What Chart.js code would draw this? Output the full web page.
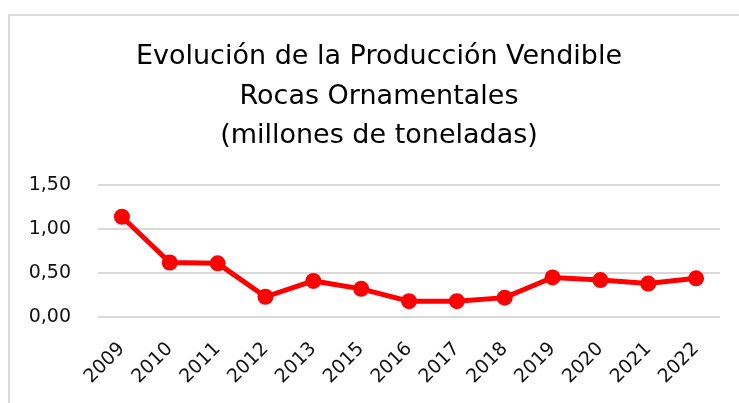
<!DOCTYPE html>
<html>
<head>
<meta charset="utf-8">
<script src="https://cdn.jsdelivr.net/npm/chart.js@4/dist/chart.umd.min.js"></script>
<style>
  html, body { margin: 0; padding: 0; background: #fff; }
  #frame { position: absolute; left: 8px; top: 14px; width: 740px; height: 400px;
           border-left: 2px solid #dcdcdc; border-top: 2px solid #dcdcdc; }
  #wrap { position: absolute; left: 0; top: 0; width: 739px; height: 403px; }
</style>
</head>
<body>
<div id="frame"></div>
<div id="wrap"><canvas id="chart"></canvas></div>
<script>
// years (2014 is missing in the source)
const years = ['2009','2010','2011','2012','2013','2015','2016','2017','2018','2019','2020','2021','2022'];
// millions of tonnes
const produccion = [1.14, 0.62, 0.61, 0.23, 0.41, 0.32, 0.18, 0.18, 0.22, 0.45, 0.42, 0.38, 0.44];
const titleLines = ['Evolución de la Producción Vendible', 'Rocas Ornamentales', '(millones de toneladas)'];

const FONT = '"DejaVu Sans", sans-serif';

// the original title sits a bit right of the canvas centre
const titleShift = {
  id: 'titleShift',
  afterLayout(chart) {
    if (chart.titleBlock) chart.titleBlock.left += 28;
  }
};

new Chart(document.getElementById('chart'), {
  type: 'line',
  data: {
    labels: years,
    datasets: [{
      data: produccion,
      borderColor: '#ff0000',
      backgroundColor: '#ff0000',
      borderWidth: 5,
      pointRadius: 8,
      pointBackgroundColor: '#ff0000',
      pointBorderWidth: 0,
      tension: 0
    }]
  },
  plugins: [titleShift],
  options: {
    responsive: true,
    maintainAspectRatio: false,
    animation: false,
    layout: { padding: { left: 10, right: 19, top: 14, bottom: 0 } },
    plugins: {
      legend: { display: false },
      tooltip: { enabled: false },
      title: {
        display: true,
        text: titleLines,
        color: '#000',
        font: { family: FONT, size: 27, weight: 'normal', lineHeight: 1.47 },
        padding: { top: 23, bottom: 29 }
      }
    },
    scales: {
      x: {
        offset: true,
        grid: { display: false },
        border: { display: false },
        ticks: {
          color: '#111',
          font: { family: FONT, size: 19 },
          maxRotation: 45, minRotation: 45,
          padding: 13
        },
        afterFit: s => { s.height = 86; }
      },
      y: {
        min: 0, max: 1.5,
        grid: { color: '#d9d9d9', lineWidth: 2, drawTicks: false },
        border: { display: false },
        ticks: {
          stepSize: 0.5,
          color: '#111',
          padding: 27,
          font: { family: FONT, size: 19 },
          callback: v => v.toFixed(2).replace('.', ',')
        },
        afterFit: s => { s.width = 88; }
      }
    }
  }
});
</script>
</body>
</html>
